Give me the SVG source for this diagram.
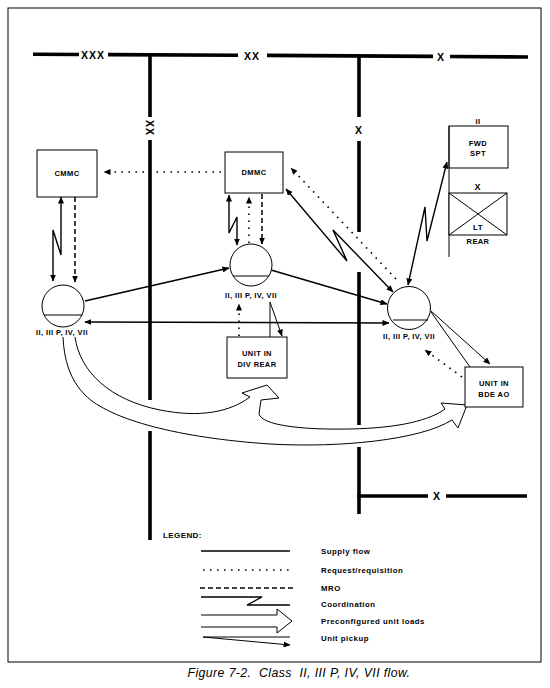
<svg xmlns="http://www.w3.org/2000/svg" width="550" height="688" viewBox="0 0 550 688">
<defs>
<marker id="ah" viewBox="0 0 7 6" refX="6.5" refY="3" markerWidth="7" markerHeight="6" markerUnits="userSpaceOnUse" orient="auto-start-reverse"><path d="M0,0 L7,3 L0,6 z" fill="#000" stroke="none"/></marker>
</defs>
<style>
.t{font-family:"Liberation Sans",Arial,sans-serif;font-weight:bold;font-size:7.5px;letter-spacing:0.4px;fill:#000;dominant-baseline:central}
.c{text-anchor:middle}
.lg{font-size:7.8px;letter-spacing:0.5px}
.ech{font-size:10.5px;letter-spacing:1px}
.thick{stroke:#000;stroke-width:3.6;fill:none}
.box{fill:#fff;stroke:#000;stroke-width:1}
.sup{stroke:#000;stroke-width:1.6;fill:none}
.dot{stroke:#000;stroke-width:1.6;fill:none;stroke-dasharray:1.6 5.4}
.dash{stroke:#000;stroke-width:1.5;fill:none;stroke-dasharray:5 3}
.crd{stroke:#000;stroke-width:1.4;fill:none}
.hol{stroke:#000;stroke-width:1;fill:none}
.thin{stroke:#000;stroke-width:1;fill:none}
.cap{font-family:"Liberation Sans",Arial,sans-serif;font-style:italic;font-size:12.3px;letter-spacing:0.4px;fill:#000}
</style>
<rect width="550" height="688" fill="#fff"/>
<g id="frame"><rect x="8" y="8" width="533" height="654" class="thin"/></g>
<g id="boundaries">
<path class="thick" d="M33,54.3 L79,54.5 M108,54.6 L238,55.3 M267,55.4 L433,56.4 M450,56.5 L528,57"/>
<text class="t c ech" x="93" y="55">XXX</text>
<text class="t c ech" x="252" y="55.5">XX</text>
<text class="t c ech" x="441" y="56.5">X</text>
<path class="thick" d="M150,55 V117 M150,140 V400 M150,431 V540"/>
<text class="t c ech" x="150" y="128" transform="rotate(90 150 128)">XX</text>
<path class="thick" d="M359,56 V117 M359,141 V232 M359,272 V425 M359,447 V514"/>
<text class="t c ech" x="359" y="130">X</text>
<path class="thick" d="M357.2,496 H428 M446,496 H527"/>
<text class="t c ech" x="437" y="496">X</text>
</g>
<g id="connectors">
<path class="dot" d="M221,172 L104,172" marker-end="url(#ah)"/>
<path class="crd" d="M61,197 L61,255 L53,230 L53,281" marker-start="url(#ah)" marker-end="url(#ah)"/>
<path class="dash" d="M75,197 L75,282" marker-end="url(#ah)"/>
<path class="crd" d="M229,195 L229,233 L237,217 L237,245" marker-start="url(#ah)" marker-end="url(#ah)"/>
<path class="dot" d="M249,243 L249,197" marker-end="url(#ah)"/>
<path class="dash" d="M262,194 L262,244" marker-end="url(#ah)"/>
<path class="sup" d="M85,301 L229,268" marker-end="url(#ah)"/>
<path class="sup" d="M271,270 L387,304" marker-end="url(#ah)"/>
<path class="sup" d="M85,322 L389,323" marker-start="url(#ah)" marker-end="url(#ah)"/>
<path class="crd" d="M286,189 L347,261 L333,230 L393,292" marker-start="url(#ah)" marker-end="url(#ah)"/>
<path class="dot" d="M396,279 L291,168" marker-end="url(#ah)"/>
<path class="crd" d="M408,285 L425,207 L427,241 L447,162" marker-start="url(#ah)" marker-end="url(#ah)"/>
<path class="thin" d="M270,302 L270,337 M270,302 L282,336" marker-end="url(#ah)"/>
<path class="thin" d="M431,312 L470,367 M431,311 L490,364" marker-end="url(#ah)"/>
<path class="dot" d="M239,336 L239,304" marker-end="url(#ah)"/>
<path class="dot" d="M462,377 L425,350" marker-end="url(#ah)"/>
<path class="hol" d="M75,337 C80,372 110,400 160,410 C200,418 230,412 250,397 L242,393 L267,385 L279,398 L261,400 L259,414 C262,425 300,430 350,429 C400,428 430,420 445,409 L441,403 L467,405 L458,428 L452,420 C420,440 340,448 270,444 C180,438 110,420 85,395 C70,380 64,360 63,337"/>
</g>
<g id="cmmc"><rect class="box" x="37" y="150" width="60" height="47"/><text class="t c" x="67" y="173">CMMC</text></g>
<g id="dmmc"><rect class="box" x="225" y="152" width="58" height="41"/><text class="t c" x="254" y="172">DMMC</text></g>
<g id="sup-left"><circle class="box" cx="63" cy="306" r="21"/><path class="thin" d="M44,315 H82"/><text class="t c" x="62" y="332">II, III P, IV, VII</text></g>
<g id="sup-mid"><circle class="box" cx="251" cy="265" r="21"/><path class="thin" d="M233,276 H269"/><text class="t c" x="251" y="295">II, III P, IV, VII</text></g>
<g id="sup-right"><circle class="box" cx="409" cy="308" r="21.5"/><path class="thin" d="M393,320 H428"/><text class="t c" x="409" y="336">II, III P, IV, VII</text></g>
<g id="fwd-spt"><rect class="box" x="449" y="126" width="59" height="42"/><path class="thin" d="M449,126 V257"/><text class="t c" x="478" y="121">II</text><text class="t c" x="478" y="143">FWD</text><text class="t c" x="478" y="153">SPT</text></g>
<g id="lt-rear"><rect class="box" x="449" y="193" width="58" height="42"/><path class="thin" d="M449,193 L507,235 M507,193 L449,235"/><text class="t c ech" x="478" y="187" style="font-size:9px">X</text><text class="t c" x="478" y="227" style="font-size:8px">LT</text><text class="t c" x="478" y="241">REAR</text></g>
<g id="unit-div-rear"><rect class="box" x="227" y="337" width="60" height="41"/><text class="t c" x="257" y="353">UNIT IN</text><text class="t c" x="257" y="364">DIV REAR</text></g>
<g id="unit-bde-ao"><rect class="box" x="465" y="367" width="58" height="40"/><text class="t c" x="494" y="383">UNIT IN</text><text class="t c" x="494" y="394">BDE AO</text></g>
<g id="legend">
<text class="t" x="163" y="535" style="font-size:8px">LEGEND:</text>
<path class="sup" d="M201,551 H290"/><text class="t lg" x="321" y="551">Supply flow</text>
<path class="dot" d="M203,570 H294"/><text class="t lg" x="321" y="570">Request/requisition</text>
<path class="dash" d="M200,588 H294"/><text class="t lg" x="321" y="588">MRO</text>
<path class="crd" d="M201,597 H262 L247,605 H290"/><text class="t lg" x="321" y="604">Coordination</text>
<path class="hol" d="M201,615 H277 V609 L292,621 L277,633 V627 H201"/><text class="t lg" x="321" y="621">Preconfigured unit loads</text>
<path class="thin" d="M203,637 H290 M203,637 L290,645" marker-end="url(#ah)"/><text class="t lg" x="321" y="638">Unit pickup</text>
</g>
<text class="cap" x="299" y="677" text-anchor="middle" xml:space="preserve">Figure 7-2.  Class  II, III P, IV, VII flow.</text>
</svg>
